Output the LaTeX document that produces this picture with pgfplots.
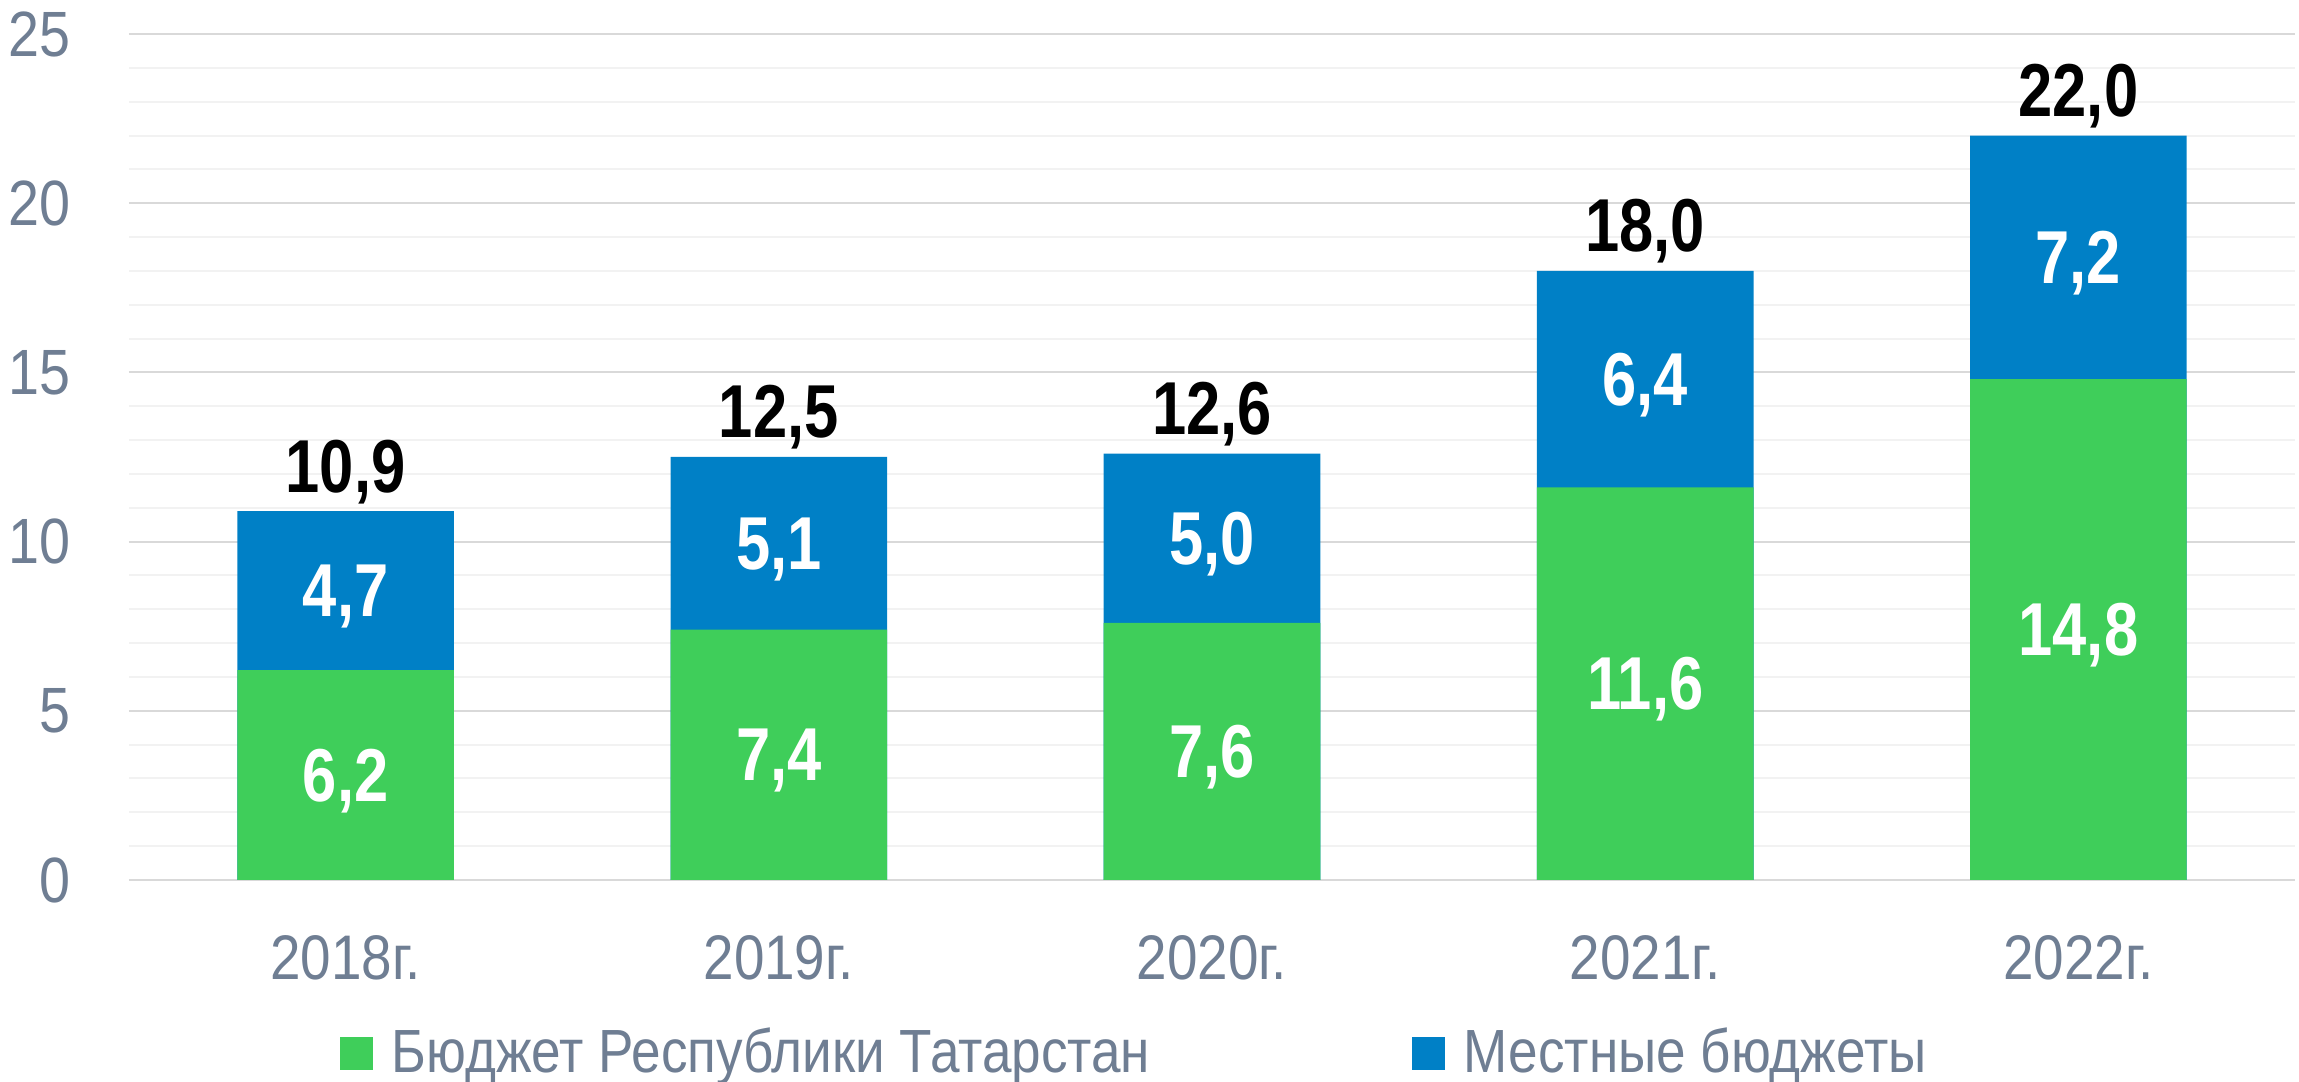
\documentclass[border=0pt]{standalone}
\usepackage{pgfplots}
\usepackage{pgfplotstable}
\pgfplotsset{compat=1.18}
\usepackage{fontspec}
\setmainfont{Liberation Sans}[FakeStretch=0.87]
\newfontfamily\narrowbold{Liberation Sans}[FakeStretch=0.82]
\definecolor{cgreen}{RGB}{63,206,90}
\definecolor{cblue}{RGB}{0,128,198}
\definecolor{ctext}{RGB}{111,126,147}
\definecolor{gmajor}{RGB}{217,217,217}
\definecolor{gminor}{RGB}{242,242,242}

\pgfplotstableread{
x green total gmid bmid glab blab tlab
0 6.2  10.9 3.1  8.55  6,2  4,7 10,9
1 7.4  12.5 3.7  9.95  7,4  5,1 12,5
2 7.6  12.6 3.8  10.1  7,6  5,0 12,6
3 11.6 18.0 5.8  14.8  11,6 6,4 18,0
4 14.8 22.0 7.4  18.4  14,8 7,2 22,0
}\datatable

\begin{document}
\begin{tikzpicture}
\begin{axis}[
  at={(0,0)}, anchor=south west,
  scale only axis, width=433.2pt, height=169.2pt,
  xmin=-0.5, xmax=4.5, ymin=0, ymax=25,
  clip=false,
  ybar, bar width=0.5,
  axis line style={draw=none},
  major tick length=0pt, minor tick length=0pt,
  xtick={0,1,2,3,4},
  xticklabels={2018г.,2019г.,2020г.,2021г.,2022г.},
  ytick={0,5,10,15,20,25},
  minor y tick num=4,
  ymajorgrids, yminorgrids,
  major grid style={line width=0.4pt, draw=gmajor},
  minor grid style={line width=0.4pt, draw=gminor},
  /pgf/number format/assume math mode=true,
  yticklabel style={anchor=east, inner sep=0pt, xshift=-11.6pt, font=\fontsize{12.8pt}{14pt}\selectfont, text=ctext},
  xticklabel style={anchor=north, inner sep=0pt, yshift=-11pt, font=\fontsize{12.6pt}{14pt}\selectfont, text=ctext},
  legend columns=2,
  legend image code/.code={\fill[#1] (0pt,-3.3pt) rectangle (6.6pt,3.3pt); \path (10.4pt,0pt);},
  legend style={at={(axis description cs:0.0974,-0.2054)}, anchor=west, draw=none, fill=none,
    inner sep=0pt, outer sep=0pt, column sep=0pt, row sep=0pt,
    cells={anchor=west}, nodes={inner sep=0pt},
    font=\fontsize{12.2pt}{14pt}\selectfont, text=ctext},
]
\addplot[fill=cblue, draw=none, bar shift=0pt, forget plot] table[x=x, y=total] {\datatable};
\addplot[fill=cgreen, draw=none, bar shift=0pt, forget plot] table[x=x, y=green] {\datatable};
% labels
\addplot[fill=none, draw=none, bar shift=0pt, forget plot,
  nodes near coords, point meta=explicit symbolic,
  nodes near coords align={center},
  every node near coord/.append style={anchor=center, inner sep=0pt, text depth=0pt, text=white, font=\fontsize{15pt}{17pt}\narrowbold\bfseries}]
  table[x=x, y=gmid, meta=glab] {\datatable};
\addplot[fill=none, draw=none, bar shift=0pt, forget plot,
  nodes near coords, point meta=explicit symbolic,
  nodes near coords align={center},
  every node near coord/.append style={anchor=center, inner sep=0pt, text depth=0pt, text=white, font=\fontsize{15pt}{17pt}\narrowbold\bfseries}]
  table[x=x, y=bmid, meta=blab] {\datatable};
\addplot[fill=none, draw=none, bar shift=0pt, forget plot,
  nodes near coords, point meta=explicit symbolic,
  every node near coord/.append style={anchor=south, inner sep=0pt, text depth=0pt, yshift=3.6pt, text=black, font=\fontsize{15pt}{17pt}\narrowbold\bfseries}]
  table[x=x, y=total, meta=tlab] {\datatable};
\addlegendimage{fill=cgreen, draw=none}
\addlegendentry{\makebox[204pt][l]{Бюджет Республики Татарстан}}
\addlegendimage{fill=cblue, draw=none}
\addlegendentry{Местные бюджеты}
\end{axis}
\pgfresetboundingbox
\path[use as bounding box] (-25.8pt,-40.4pt) rectangle (434pt,176pt);
\end{tikzpicture}
\end{document}
